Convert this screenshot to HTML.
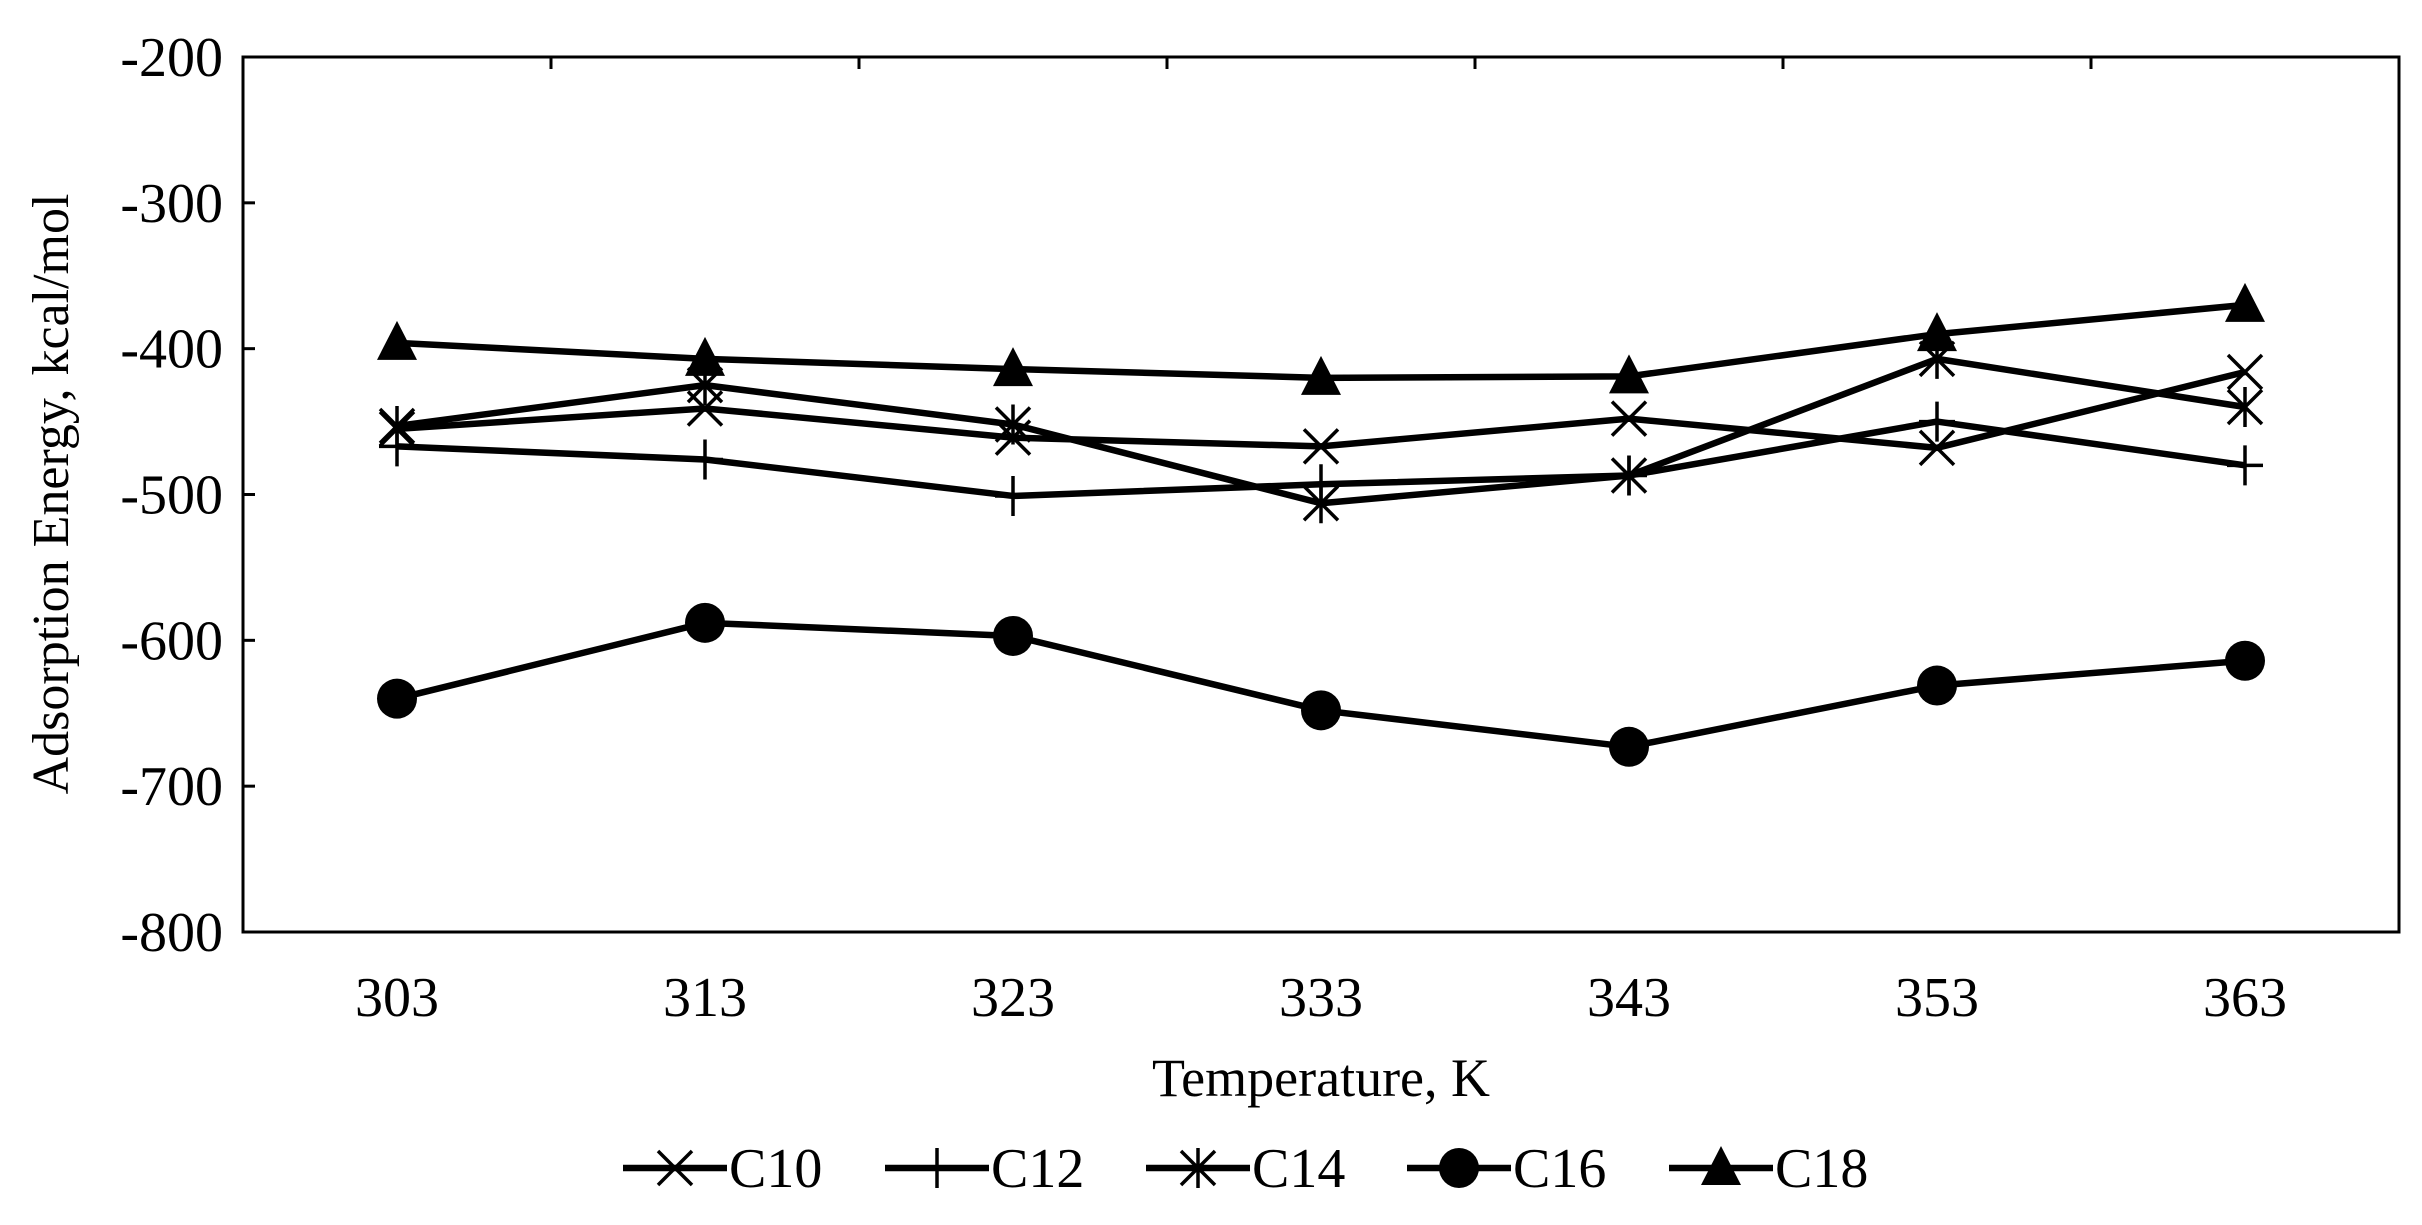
<!DOCTYPE html>
<html><head><meta charset="utf-8"><style>
html,body{margin:0;padding:0;background:#fff;}
svg{display:block;font-family:"Liberation Serif",serif;}
</style></head><body>
<svg id="chart" width="2422" height="1225" viewBox="0 0 2422 1225">
<g id="axes"></g><g id="series"></g><g id="legend"></g>
</svg>
<script>
const categories = ["303","313","323","333","343","353","363"];
const yTicks = [-200,-300,-400,-500,-600,-700,-800];
const seriesNames = ["C10","C12","C14","C16","C18"];
const c10 = [-455,-441,-461,-467,-448,-468,-416];
const c12 = [-467,-476,-501,-493,-487,-450,-480];
const c14 = [-453,-425,-452,-506,-487,-407,-440];
const c16 = [-640,-588,-597,-648,-673,-631,-614];
const c18 = [-396,-407,-414,-420,-419,-390,-370];

const NS="http://www.w3.org/2000/svg";
const L=243,R=2399,T=57,B=932,yMin=-800,yMax=-200;
const catW=(R-L)/categories.length;
function xs(i){return L+catW*(i+0.5);}
function ys(v){return T+(yMax-v)/(yMax-yMin)*(B-T);}
function mk(tag,attrs,parent){const e=document.createElementNS(NS,tag);for(const k in attrs)e.setAttribute(k,attrs[k]);parent.appendChild(e);return e;}
const axes=document.getElementById('axes'),ser=document.getElementById('series'),leg=document.getElementById('legend');

let frame=mk('rect',{x:L,y:T,width:R-L,height:B-T,fill:'none',stroke:'#000','stroke-width':3},axes);


yTicks.forEach(v=>{
  const y=ys(v);
  let t=mk('line',{x1:L,x2:L+12,y1:y,y2:y,stroke:'#000','stroke-width':3},axes);
  
  
  let lb=mk('text',{x:L-20,y:y+19,'text-anchor':'end','font-size':56},axes);
  lb.textContent=v;
  
  
});
for(let i=1;i<categories.length;i++){
  const x=L+catW*i;
  let t=mk('line',{x1:x,x2:x,y1:T,y2:T+12,stroke:'#000','stroke-width':3},axes);
  
  
}
categories.forEach((c,i)=>{
  let lb=mk('text',{x:xs(i),y:1016,'text-anchor':'middle','font-size':56},axes);
  lb.textContent=c;
  
  
});
let xt=mk('text',{x:1321,y:1096,'text-anchor':'middle','font-size':54},axes);
xt.textContent="Temperature, K";


let yt=mk('text',{x:0,y:0,'text-anchor':'middle','font-size':52,transform:'translate(68,494) rotate(-90)'},axes);
yt.textContent="Adsorption Energy, kcal/mol";



function marker(type,x,y,g){
  const s=3.5;
  if(type==='x'){mk('path',{d:`M${x-17} ${y-17}L${x+17} ${y+17}M${x-17} ${y+17}L${x+17} ${y-17}`,stroke:'#000','stroke-width':s,fill:'none'},g);}
  else if(type==='plus'){mk('path',{d:`M${x-18} ${y}L${x+18} ${y}M${x} ${y-20}L${x} ${y+20}`,stroke:'#000','stroke-width':s,fill:'none'},g);}
  else if(type==='star'){mk('path',{d:`M${x-17} ${y-17}L${x+17} ${y+17}M${x-17} ${y+17}L${x+17} ${y-17}M${x} ${y-20}L${x} ${y+20}`,stroke:'#000','stroke-width':s,fill:'none'},g);}
  else if(type==='circle'){mk('circle',{cx:x,cy:y,r:20,fill:'#000'},g);}
  else {mk('path',{d:`M${x} ${y-22}L${x+20} ${y+17}L${x-20} ${y+17}Z`,fill:'#000'},g);}
}
const allSeries=[c10,c12,c14,c16,c18];
const markers=['x','plus','star','circle','tri'];
allSeries.forEach((vals,si)=>{
  const g=mk('g',{},ser);
  
  
  const pts=vals.map((v,i)=>xs(i)+','+ys(v)).join(' ');
  mk('polyline',{points:pts,fill:'none',stroke:'#000','stroke-width':6.5,'stroke-linejoin':'round'},g);
  vals.forEach((v,i)=>marker(markers[si],xs(i),ys(v),g));
});
const legX=[623,885,1146,1407,1669];
seriesNames.forEach((n,i)=>{
  const g=mk('g',{},leg);
  
  
  const x=legX[i],y=1168;
  mk('line',{x1:x,x2:x+104,y1:y,y2:y,stroke:'#000','stroke-width':6.5},g);
  marker(markers[i],x+52,y,g);
  const t=mk('text',{x:x+106,y:y+19,'font-size':56},g);
  t.textContent=n;
});
</script>
</body></html>
